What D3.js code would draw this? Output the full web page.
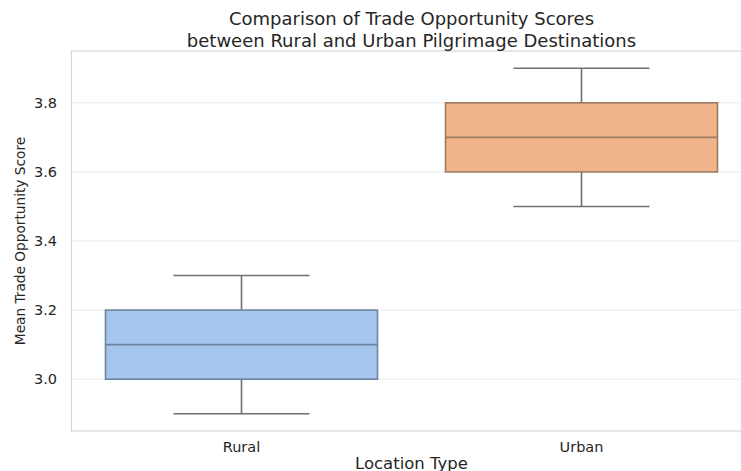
<!DOCTYPE html>
<html>
<head>
<meta charset="utf-8">
<script src="https://cdn.jsdelivr.net/npm/d3@7"></script>
<style>
  body { margin: 0; background: #fff; }
  text { font-family: "DejaVu Sans", sans-serif; fill: #262626; }
</style>
</head>
<body>
<svg width="741" height="471"></svg>
<script>
// data
var categories = ['Rural', 'Urban'];
var whiskerLow = [2.9, 3.5];
var q1 = [3.0, 3.6];
var medians = [3.1, 3.7];
var q3 = [3.2, 3.8];
var whiskerHigh = [3.3, 3.9];
var yTicks = [3.0, 3.2, 3.4, 3.6, 3.8];

var fills = ['#a4c6ee', '#f1b48b'];
var edges = ['#6c84a0', '#9c7a62'];
var whiskerColor = '#6f6f6f';

var svg = d3.select('svg');

// plot area (right edge runs past the window, as in the picture)
var plotLeft = 71.5, plotRight = 751.5, plotTop = 51, plotBottom = 431;

var boxes = categories.map(function(c, i) {
    return { name: c, lo: whiskerLow[i], q1: q1[i], med: medians[i], q3: q3[i], hi: whiskerHigh[i], fill: fills[i], edge: edges[i] };
});

var x = d3.scaleBand().domain(categories).range([plotLeft, plotRight]);
var y = d3.scaleLinear().domain([2.85, 3.95]).range([plotBottom, plotTop]);

// grid
svg.append('g').selectAll('line')
    .data(yTicks)
    .enter().append('line')
    .attr('x1', plotLeft).attr('x2', plotRight)
    .attr('y1', function(d) { return y(d); })
    .attr('y2', function(d) { return y(d); })
    .attr('stroke', '#ebebeb')
    .attr('stroke-width', 1);

// frame
svg.append('rect')
    .attr('x', plotLeft).attr('y', plotTop)
    .attr('width', plotRight - plotLeft).attr('height', plotBottom - plotTop)
    .attr('fill', 'none')
    .attr('stroke', '#d5d5d5')
    .attr('stroke-width', 1.2);

// y axis
var yAxis = svg.append('g')
    .attr('transform', 'translate(' + plotLeft + ',0)')
    .call(d3.axisLeft(y).tickValues(yTicks).tickFormat(d3.format('.1f')).tickSize(0).tickPadding(14.5));
yAxis.select('.domain').remove();
yAxis.selectAll('text').style('font-size', '14.5px').attr('fill', '#262626');

// x axis
var xAxis = svg.append('g')
    .attr('transform', 'translate(0,' + plotBottom + ')')
    .call(d3.axisBottom(x).tickSize(0).tickPadding(10.5));
xAxis.select('.domain').remove();
xAxis.selectAll('text').style('font-size', '14.5px').attr('fill', '#262626');

var bw = x.bandwidth() * 0.8;
var cap = bw / 2;

var g = svg.append('g').selectAll('.box')
    .data(boxes)
    .enter().append('g')
    .attr('class', 'box');

function cx(d) { return x(d.name) + x.bandwidth() / 2; }

// whiskers
g.append('line')
    .attr('x1', cx).attr('x2', cx)
    .attr('y1', function(d) { return y(d.q3); })
    .attr('y2', function(d) { return y(d.hi); })
    .attr('stroke', whiskerColor).attr('stroke-width', 1.6);
g.append('line')
    .attr('x1', cx).attr('x2', cx)
    .attr('y1', function(d) { return y(d.q1); })
    .attr('y2', function(d) { return y(d.lo); })
    .attr('stroke', whiskerColor).attr('stroke-width', 1.6);
// caps
g.append('line')
    .attr('x1', function(d) { return cx(d) - cap / 2; })
    .attr('x2', function(d) { return cx(d) + cap / 2; })
    .attr('y1', function(d) { return y(d.hi); })
    .attr('y2', function(d) { return y(d.hi); })
    .attr('stroke', whiskerColor).attr('stroke-width', 1.6);
g.append('line')
    .attr('x1', function(d) { return cx(d) - cap / 2; })
    .attr('x2', function(d) { return cx(d) + cap / 2; })
    .attr('y1', function(d) { return y(d.lo); })
    .attr('y2', function(d) { return y(d.lo); })
    .attr('stroke', whiskerColor).attr('stroke-width', 1.6);

// box
g.append('rect')
    .attr('x', function(d) { return cx(d) - bw / 2; })
    .attr('y', function(d) { return y(d.q3); })
    .attr('width', bw)
    .attr('height', function(d) { return y(d.q1) - y(d.q3); })
    .attr('fill', function(d) { return d.fill; })
    .attr('stroke', function(d) { return d.edge; })
    .attr('stroke-width', 1.6);

// median
g.append('line')
    .attr('x1', function(d) { return cx(d) - bw / 2; })
    .attr('x2', function(d) { return cx(d) + bw / 2; })
    .attr('y1', function(d) { return y(d.med); })
    .attr('y2', function(d) { return y(d.med); })
    .attr('stroke', function(d) { return d.edge; })
    .attr('stroke-width', 1.6);

// labels
var midX = (plotLeft + plotRight) / 2;
svg.append('text')
    .attr('x', midX).attr('y', 24.5)
    .attr('text-anchor', 'middle')
    .style('font-size', '18px')
    .text('Comparison of Trade Opportunity Scores');
svg.append('text')
    .attr('x', midX).attr('y', 46.5)
    .attr('text-anchor', 'middle')
    .style('font-size', '18px')
    .text('between Rural and Urban Pilgrimage Destinations');

svg.append('text')
    .attr('x', midX).attr('y', 468.5)
    .attr('text-anchor', 'middle')
    .style('font-size', '16.5px')
    .text('Location Type');

svg.append('text')
    .attr('transform', 'translate(24.5,' + (plotTop + plotBottom) / 2 + ') rotate(-90)')
    .attr('text-anchor', 'middle')
    .style('font-size', '13.7px')
    .text('Mean Trade Opportunity Score');
</script>
</body>
</html>
